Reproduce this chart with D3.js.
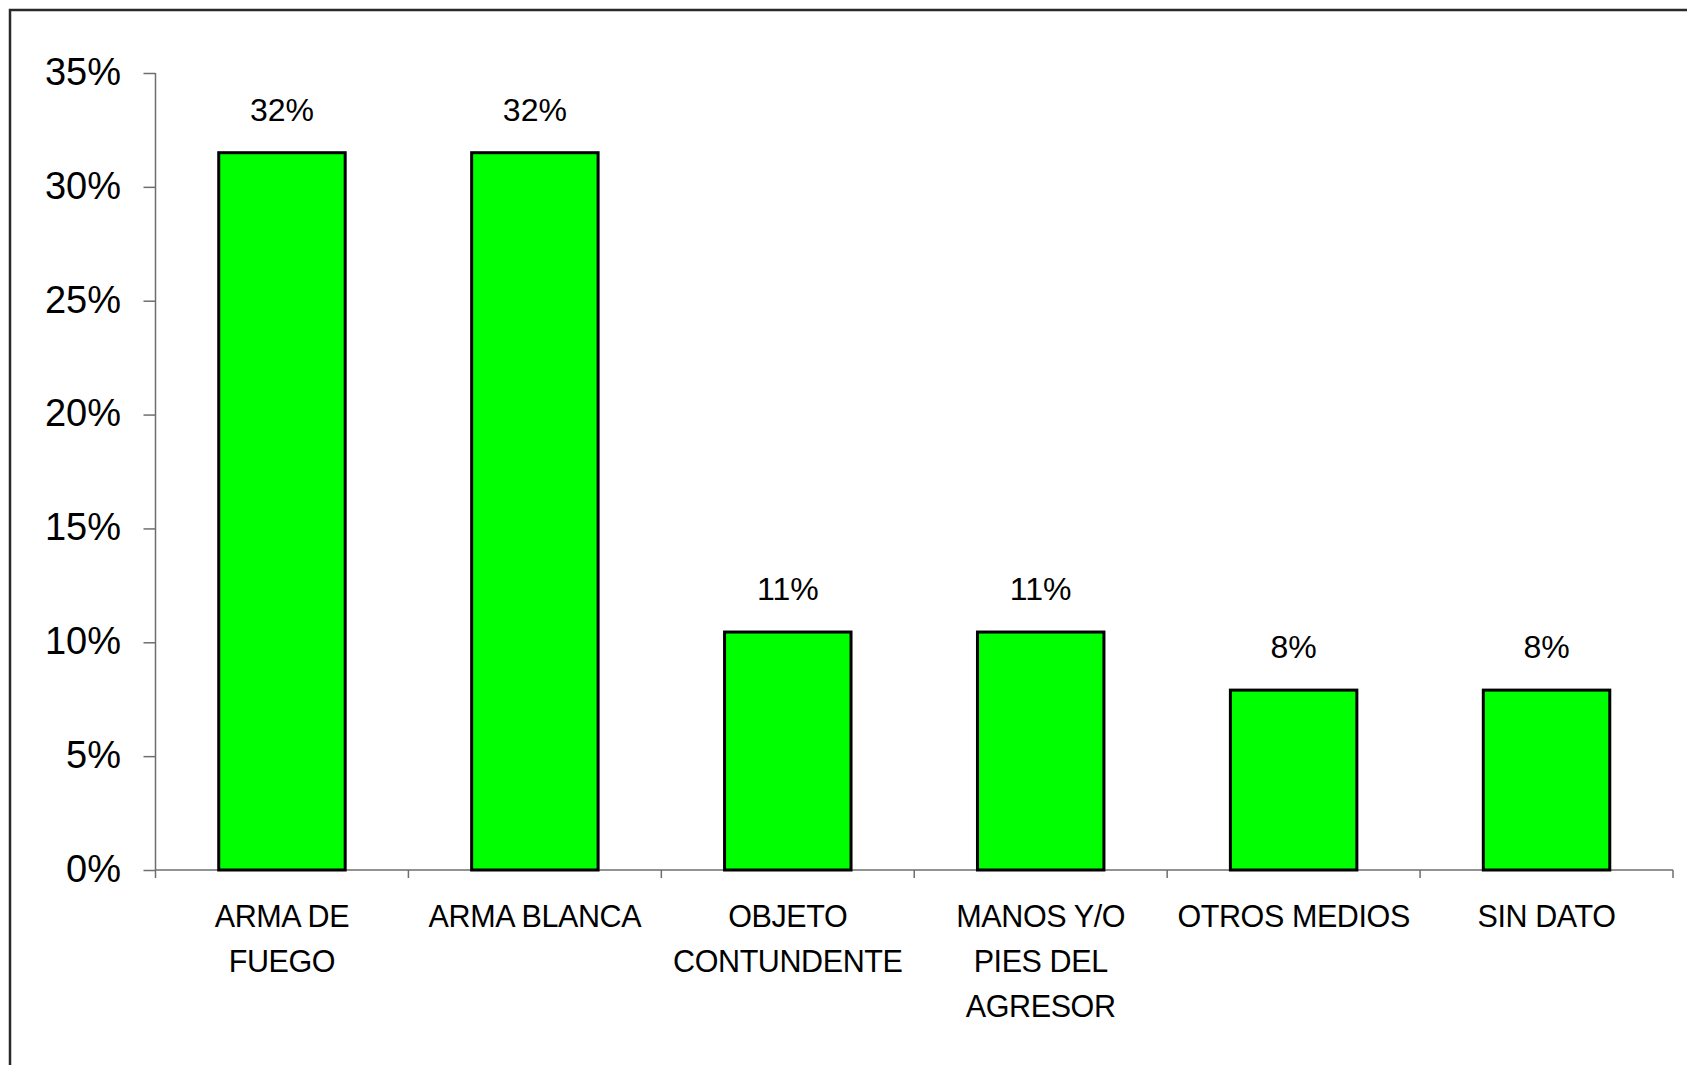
<!DOCTYPE html>
<html>
<head>
<meta charset="utf-8">
<script src="https://cdn.jsdelivr.net/npm/d3@7"></script>
<style>
    body { margin: 0; background: #fff; }
    svg { display: block; font-family: "Liberation Sans", Arial, sans-serif; }
    .axis-line { stroke: #6e6e6e; stroke-width: 1.5; }
    .bar { fill: #00ff00; stroke: #000; stroke-width: 3; }
    .value-label { font-size: 32px; fill: #000; text-anchor: middle; }
    .cat-label { font-size: 30.5px; fill: #000; text-anchor: middle; letter-spacing: -0.4px; }
</style>
</head>
<body>
<div id="chart"></div>
<script>
const categories = ["ARMA DE FUEGO", "ARMA BLANCA", "OBJETO CONTUNDENTE",
    "MANOS Y/O PIES DEL AGRESOR", "OTROS MEDIOS", "SIN DATO"];
const categoryLines = [["ARMA DE", "FUEGO"], ["ARMA BLANCA"], ["OBJETO", "CONTUNDENTE"],
    ["MANOS Y/O", "PIES DEL", "AGRESOR"], ["OTROS MEDIOS"], ["SIN DATO"]];
const percentages = [31.5, 31.5, 10.45, 10.45, 7.9, 7.9];
const valueLabels = ["32%", "32%", "11%", "11%", "8%", "8%"];
const yTicks = [0, 5, 10, 15, 20, 25, 30, 35];

const WIDTH = 1687, HEIGHT = 1065;
const PLOT = { left: 155.5, right: 1673, top: 73, bottom: 870 };

const svg = d3.select("#chart").append("svg")
    .attr("width", WIDTH)
    .attr("height", HEIGHT);

// outer frame (runs past the right and bottom edges like the original)
svg.append("rect")
    .attr("x", 10).attr("y", 10)
    .attr("width", WIDTH + 20).attr("height", HEIGHT + 20)
    .attr("fill", "none")
    .attr("stroke", "#2a2a2a")
    .attr("stroke-width", 2.5);

const x = d3.scaleBand()
    .domain(categories)
    .range([PLOT.left, PLOT.right])
    .paddingInner(0.5)
    .paddingOuter(0.25);

const y = d3.scaleLinear()
    .domain([0, 35])
    .range([PLOT.bottom, PLOT.top]);

// y axis
const yAxis = svg.append("g")
    .attr("transform", `translate(${PLOT.left},0)`)
    .call(d3.axisLeft(y)
        .tickValues(yTicks)
        .tickSize(12)
        .tickPadding(22.5)
        .tickFormat(d => d + "%"));
yAxis.select(".domain").remove();
yAxis.selectAll(".tick line").attr("class", "axis-line");
yAxis.selectAll(".tick text")
    .attr("font-size", 38)
    .attr("font-family", "Liberation Sans, Arial, sans-serif")
    .attr("fill", "#000")
    .attr("dy", "0.3em");

svg.append("line").attr("class", "axis-line")
    .attr("x1", PLOT.left).attr("x2", PLOT.left)
    .attr("y1", PLOT.top).attr("y2", PLOT.bottom + 8);

// x axis baseline with ticks between categories
svg.append("line").attr("class", "axis-line")
    .attr("x1", PLOT.left).attr("x2", PLOT.right)
    .attr("y1", PLOT.bottom).attr("y2", PLOT.bottom);

const step = x.step();
const boundaries = d3.range(categories.length + 1).map(i => PLOT.left + i * step);
svg.append("g").selectAll("line")
    .data(boundaries.slice(1))
    .enter()
    .append("line")
    .attr("class", "axis-line")
    .attr("x1", d => d).attr("x2", d => d)
    .attr("y1", PLOT.bottom).attr("y2", PLOT.bottom + 8);

// bars
svg.append("g").selectAll("rect")
    .data(categories)
    .enter()
    .append("rect")
    .attr("class", "bar")
    .attr("x", d => x(d))
    .attr("width", x.bandwidth())
    .attr("y", (d, i) => y(percentages[i]))
    .attr("height", (d, i) => y(0) - y(percentages[i]));

// value labels
svg.append("g").selectAll("text")
    .data(categories)
    .enter()
    .append("text")
    .attr("class", "value-label")
    .attr("x", d => x(d) + x.bandwidth() / 2)
    .attr("y", (d, i) => y(percentages[i]) - 32)
    .text((d, i) => valueLabels[i]);

// category labels
const catGroups = svg.append("g").selectAll("text")
    .data(categories)
    .enter()
    .append("text")
    .attr("class", "cat-label")
    .attr("x", d => x(d) + x.bandwidth() / 2)
    .attr("y", 927);

catGroups.selectAll("tspan")
    .data((d, i) => categoryLines[i].map(line => ({ line, cx: x(d) + x.bandwidth() / 2 })))
    .enter()
    .append("tspan")
    .attr("x", d => d.cx)
    .attr("dy", (d, j) => j === 0 ? 0 : 45)
    .text(d => d.line);
</script>
</body>
</html>
